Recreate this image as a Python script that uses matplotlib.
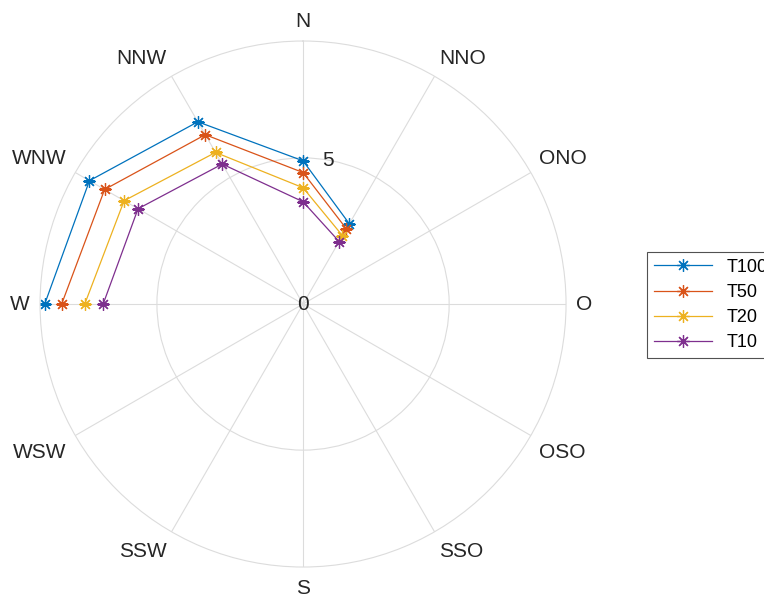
import numpy as np
import matplotlib.pyplot as plt
from matplotlib.transforms import offset_copy

plt.rcParams['font.family'] = ['Liberation Sans', 'DejaVu Sans']

# compass sectors (clockwise from north)
directions = ["N", "NNO", "ONO", "O", "OSO", "SSO", "S", "SSW", "WSW", "W", "WNW", "NNW"]
dir_angles = [0, 30, 60, 90, 120, 150, 180, 210, 240, 270, 300, 330]

# measured sectors only
data_dirs = ["W", "WNW", "NNW", "N", "NNO"]
t100 = [8.84, 8.44, 7.20, 4.90, 3.17]
t50 = [8.26, 7.84, 6.69, 4.50, 2.97]
t20 = [7.47, 7.07, 5.99, 3.98, 2.70]
t10 = [6.84, 6.52, 5.53, 3.50, 2.47]

series = [("T100", t100, "#0072BD"),
          ("T50", t50, "#D95319"),
          ("T20", t20, "#EDB120"),
          ("T10", t10, "#7E2F8E")]

RMAX = 9
theta = np.deg2rad([dir_angles[directions.index(d)] for d in data_dirs])

fig = plt.figure(figsize=(7.64, 5.98), dpi=100)
ax = fig.add_axes([0.0524, 0.0518, 0.6885, 0.8796], projection='polar')
ax.set_theta_zero_location('N')
ax.set_theta_direction(-1)

for name, vals, col in series:
    ax.plot(theta, vals, color=col, lw=0.9, marker=(8, 2, 0), markersize=9,
            markeredgewidth=0.9, label=name)

ax.set_ylim(0, RMAX)
ax.set_yticks([0, 5])
ax.set_yticklabels(["0", "5"], fontsize=15, color='#262626')
ax.set_rlabel_position(10)
for lbl in ax.get_yticklabels():
    lbl.set_ha('center')
    lbl.set_va('center')
ax.set_thetagrids(dir_angles, [""] * len(dir_angles))
ax.grid(color='#dcdcdc', lw=0.8)
ax.spines['polar'].set_color('#dcdcdc')
ax.spines['polar'].set_linewidth(0.8)

# direction labels anchored just outside the ring, aligned away from the centre
rpx_outer = ax.get_position().width * fig.get_figwidth() * fig.dpi / 2
r_lab = RMAX * (rpx_outer + 10) / rpx_outer
below = offset_copy(ax.transData, fig=fig, y=-2, units='dots')
for d, a in zip(directions, dir_angles):
    ang = np.deg2rad(a)
    s, c = np.sin(ang), np.cos(ang)
    ha = 'left' if s > 0.01 else ('right' if s < -0.01 else 'center')
    va = 'bottom' if c > 0.01 else ('top' if c < -0.01 else 'center')
    tr = below if va == 'top' else ax.transData
    ax.text(ang, r_lab, d, ha=ha, va=va, fontsize=15, color='#262626',
            clip_on=False, transform=tr)

leg = ax.legend(loc='center left', bbox_to_anchor=(0.835, 0.49), bbox_transform=fig.transFigure,
                fontsize=13, frameon=True, fancybox=False, edgecolor='#262626',
                handlelength=3.2, borderpad=0.4, labelspacing=0.45)
leg.get_frame().set_linewidth(0.8)

fig.savefig("out.png", dpi=100)
